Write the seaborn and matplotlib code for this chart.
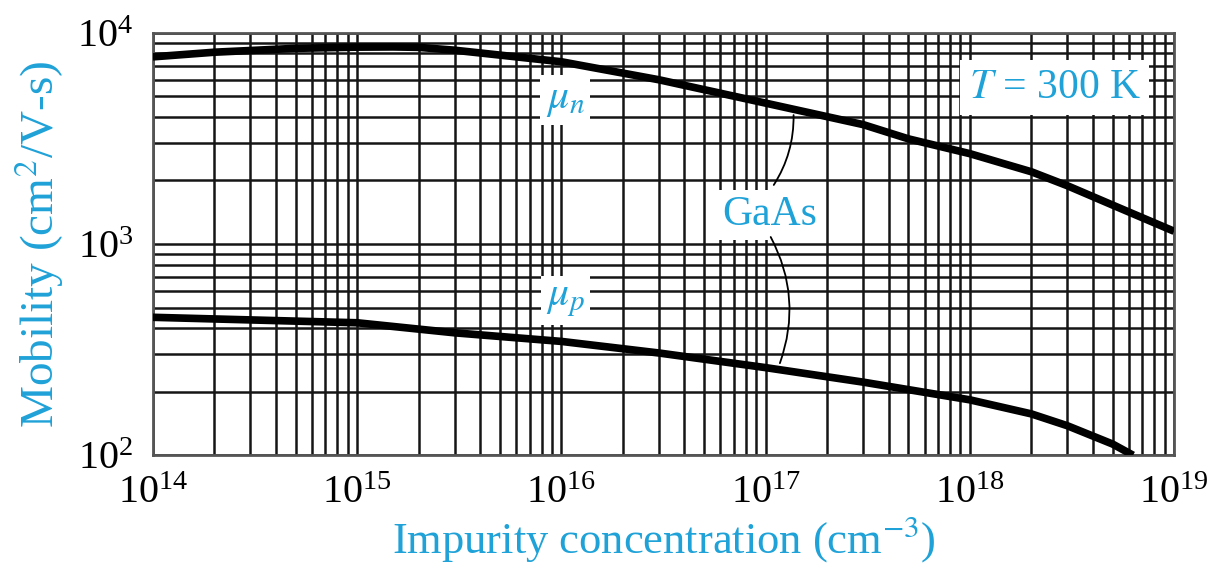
import matplotlib
matplotlib.use('Agg')
import matplotlib.pyplot as plt
import numpy as np
import pandas as pd
import seaborn as sns

sns.set_theme(style="white")
plt.rcParams['font.family'] = ['Liberation Serif', 'DejaVu Serif']
plt.rcParams['mathtext.fontset'] = 'stix'

# data (GaAs, T = 300 K)
conc_n = [1e14, 2e14, 5e14, 1e15, 1.5e15, 2e15, 3e15, 5e15, 1e16, 3e16, 1e17, 3e17, 5e17,
          1e18, 2e18, 3e18, 5e18, 1e19]
mu_n = [7700, 8100, 8450, 8560, 8580, 8540, 8280, 7850, 7300, 6000, 4650, 3680, 3150,
        2680, 2200, 1890, 1530, 1150]
conc_p = [1e14, 1e15, 3e15, 1e16, 3e16, 1e17, 3e17, 1e18, 2e18, 3e18, 5e18, 6.3e18]
mu_p = [450, 424, 380, 346, 305, 260, 222, 183, 157, 138, 113, 100]

cyan = "#1fa2d8"

fig = plt.figure(figsize=(12.23, 5.77), dpi=100)
ax = fig.add_axes([0.125, 0.211, 0.835, 0.732])

sns.lineplot(x=conc_n, y=mu_n, ax=ax, color="black", lw=5.5, solid_capstyle="butt", zorder=3)
sns.lineplot(x=conc_p, y=mu_p, ax=ax, color="black", lw=5.5, solid_capstyle="butt", zorder=3)

ax.set_xscale("log")
ax.set_yscale("log")
ax.set_xlim(1e14, 1e19)
ax.set_ylim(1e2, 1e4)

ax.grid(which="both", color="#151515", lw=1.8)
ax.set_axisbelow(True)
for s in ax.spines.values():
    s.set_color("#555555")
    s.set_linewidth(2)
ax.tick_params(which="both", length=0, labelsize=29, colors="black", pad=14)

ax.set_xlabel("Impurity concentration (cm$^{-3}$)", color=cyan, fontsize=32, labelpad=2)
ax.set_ylabel("Mobility (cm$^2$/V-s)", color=cyan, fontsize=34, labelpad=8)

box = dict(facecolor="white", edgecolor="none", pad=4)
ax.text(0.404, 0.841, r"$\mu_n$", transform=ax.transAxes, color=cyan, fontsize=30,
        ha="center", va="center", bbox=box, zorder=4)
ax.text(0.404, 0.367, r"$\mu_p$", transform=ax.transAxes, color=cyan, fontsize=30,
        ha="center", va="center", bbox=box, zorder=4)
ax.text(0.604, 0.569, "GaAs", transform=ax.transAxes, color=cyan, fontsize=30,
        ha="center", va="center", bbox=box, zorder=4)
ax.text(0.883, 0.87, "$T$ = 300 K", transform=ax.transAxes, color=cyan, fontsize=30,
        ha="center", va="center", bbox=dict(facecolor="white", edgecolor="none", pad=6), zorder=4)

# leader lines from the GaAs label to the curves
ax.annotate("", xy=(10**17.137, 4080), xytext=(10**17.04, 1905),
            arrowprops=dict(arrowstyle="-", color="black", lw=1.3, shrinkA=0, shrinkB=0,
                            connectionstyle="arc3,rad=0.15"), zorder=4)
ax.annotate("", xy=(10**17.07, 273), xytext=(10**17.025, 1080),
            arrowprops=dict(arrowstyle="-", color="black", lw=1.3, shrinkA=0, shrinkB=0,
                            connectionstyle="arc3,rad=-0.22"), zorder=4)

plt.savefig("out.png", dpi=100)
